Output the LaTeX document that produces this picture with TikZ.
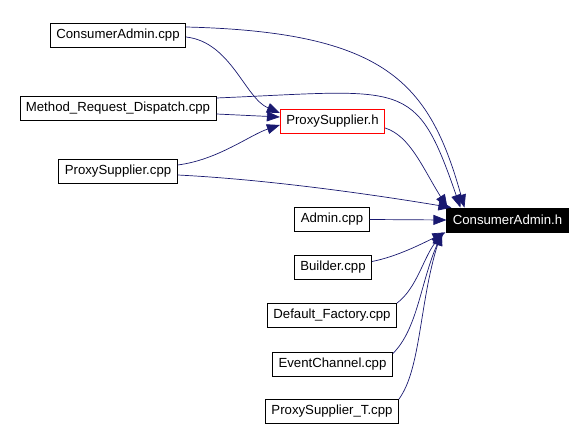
\documentclass[tikz,border=0pt]{standalone}
\usepackage{fontspec}
\setmainfont{Liberation Sans}
\usepackage{tikz}
\usetikzlibrary{arrows.meta,shapes,positioning}
\definecolor{edgeblue}{RGB}{25,25,112}

\begin{document}
\begin{tikzpicture}
			[x=1pt, y=1pt,
			 file/.style={rectangle, draw, line width=0.8pt, inner xsep=6pt, inner ysep=0pt, minimum height=24pt, font=\fontsize{13.2}{15}\selectfont},
			 hfile/.style={file, draw=red},
			 target/.style={file, fill=black, text=white},
			 dep/.style={edgeblue, line width=0.7pt, -{Triangle[length=13pt, width=10pt]}},] 
			\useasboundingbox (0,0) rectangle (584,-430);
          	\node[file] (CAcpp) at (118.0, -35.0) {ConsumerAdmin.cpp}; 
          	\node[file] (MRD) at (118.0, -108.0) {Method\_Request\_Dispatch.cpp}; 
          	\node[file] (PScpp) at (118.0, -171.0) {ProxySupplier.cpp}; 
          	\node[hfile] (PSh) at (332.5, -121.0) {ProxySupplier.h}; 
          	\node[target] (CAh) at (507.5, -220.0) {ConsumerAdmin.h}; 
          	\node[file] (Admin) at (332.0, -219.5) {Admin.cpp}; 
          	\node[file] (Builder) at (333.0, -267.5) {Builder.cpp}; 
          	\node[file] (DF) at (332.0, -315.5) {Default\_Factory.cpp}; 
          	\node[file] (EC) at (332.5, -364.0) {EventChannel.cpp}; 
          	\node[file] (PST) at (332.0, -411.5) {ProxySupplier\_T.cpp}; 
           
            \draw[dep] ([yshift=8]CAcpp.east) .. controls +(200,-5) and +(-35,125) .. ([xshift=18]CAh.north west); 
            \draw[dep] ([yshift=-2]CAcpp.east) .. controls +(45,-5) and +(-35,15) .. ([yshift=8]PSh.west); 
            \draw[dep] ([yshift=10]MRD.east) .. controls +(190,8) and +(-45,130) .. ([xshift=14]CAh.north west); 
            \draw[dep] ([yshift=-6]MRD.east) -- ([yshift=4]PSh.west); 
            \draw[dep] ([yshift=6]PScpp.east) .. controls +(40,5) and +(-30,-10) .. ([yshift=-4]PSh.west); 
            \draw[dep] ([yshift=-4]PScpp.east) .. controls +(100,-5) and +(-60,10) .. ([xshift=5]CAh.north west); 
            \draw[dep] ([yshift=-7]PSh.east) .. controls +(25,-8) and +(-25,40) .. ([xshift=1]CAh.north west); 
            \draw[dep] (Admin.east) -- (CAh.west); 
            \draw[dep] ([yshift=6]Builder.east) .. controls +(25,5) and +(-25,-12) .. ([xshift=-1]CAh.south west); 
            \draw[dep] (DF.north east) .. controls +(20,15) and +(-20,-25) .. ([xshift=-3]CAh.south west); 
            \draw[dep] ([yshift=-2]EC.north east) .. controls +(25,25) and +(-22,-50) .. ([xshift=-4]CAh.south west); 
            \draw[dep] (PST.north east) .. controls +(22,30) and +(-22,-70) .. ([xshift=-5]CAh.south west);
			\end{tikzpicture}
\end{document}
